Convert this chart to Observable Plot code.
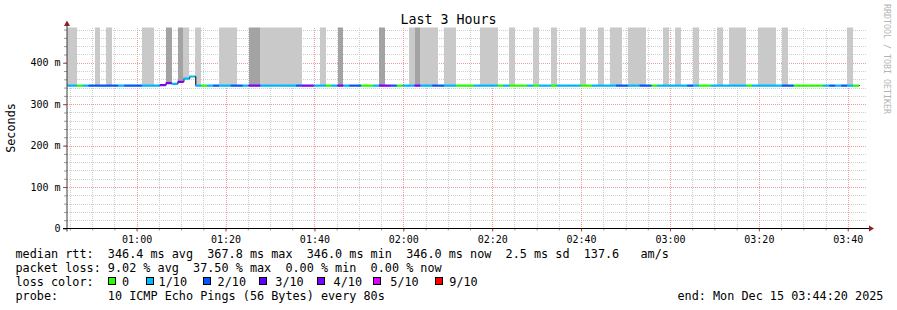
<!DOCTYPE html>
<html><head><meta charset="utf-8">
<script src="https://cdn.jsdelivr.net/npm/d3@7"></script>
<script src="https://cdn.jsdelivr.net/npm/@observablehq/plot@0.6"></script>
<style>
html,body{margin:0;padding:0;background:#fff;}
#wrap{position:relative;width:897px;height:310px;overflow:hidden;background:#fff;font-family:"DejaVu Sans Mono",monospace;color:#000;}
#wrap svg{position:absolute;left:0;top:0;}
.t{position:absolute;white-space:pre;font-size:11.8px;line-height:14px;}
.box{position:absolute;width:8px;height:8px;box-sizing:border-box;border:1px solid #000;}
</style></head><body>
<div id="wrap"></div>
<script>
// ---------------- data ----------------
const titleText = "Last 3 Hours";
const yAxisLabel = "Seconds";
const windowStart = "2025-12-15T00:44:20Z";
const windowEnd = "2025-12-15T03:44:20Z";
const stepStart = "2025-12-15T00:43:52Z";   // first 80 s step (partly hidden left of the axis)
const stepSeconds = 80;

// packet loss per step, in tenths (10 pings)
const lossTenths = [
  1,1,0,1,2,2,2,2,2,1,
  2,2,2,1,1,1,4,4,1,4,
  1,1,1,0,1,2,1,1,2,2,
  1,4,4,1,1,1,1,1,1,2,
  4,4,1,1,0,1,4,1,2,2,
  0,0,1,4,4,2,0,1,1,4,
  1,1,2,2,1,1,0,0,0,1,
  1,1,1,0,1,0,0,0,1,0,
  1,1,0,1,1,1,1,0,0,1,
  1,1,1,2,2,1,1,2,2,0,
  1,1,1,1,1,2,1,0,0,1,
  1,1,1,1,1,0,1,1,1,1,
  1,2,2,0,0,0,0,0,1,2,
  1,2,1,0
];
// median rtt per step (ms)
const medianMs = [
  346,346,346,346,346,346,346,346,346,346,
  346,346,346,346,346,346,347,352,350,355,
  363,368,346,346,346,346,346,346,346,346,
  346,346,346,346,346,346,346,346,346,346,
  346,346,346,346,346,346,346,346,346,346,
  346,346,346,346,346,346,346,346,346,346,
  346,346,346,346,346,346,346,346,346,346,
  346,346,346,346,346,346,346,346,346,346,
  346,346,346,346,346,346,346,346,346,346,
  346,346,346,346,346,346,346,346,346,346,
  346,346,346,346,346,346,346,346,346,346,
  346,346,346,346,346,346,346,346,346,346,
  346,346,346,346,346,346,346,346,346,346,
  346,346,346,346
];
// smoke per step: 0 none, 1 light, 2 dense (reaches past the top of the graph)
const smokeLevel = [
  1,1,0,0,0,1,0,1,0,0,
  0,0,0,1,1,0,0,2,0,2,
  1,0,1,0,0,0,1,1,1,0,
  0,2,2,1,1,1,1,1,1,1,
  0,0,0,1,0,0,2,0,0,0,
  0,0,0,2,0,0,0,0,1,2,
  1,1,1,0,1,1,0,0,0,0,
  1,1,1,0,0,1,0,0,0,1,
  0,0,1,0,0,0,0,1,0,0,
  1,0,1,1,0,1,1,1,0,0,
  0,1,0,1,0,0,1,0,0,0,
  1,0,1,1,1,0,0,1,1,1,
  0,1,0,0,0,0,0,0,0,0,
  0,0,1,0
];
const smokeTopMs = 2000;
const yMaxMs = 485;

const lossLevels = [0, 1, 2, 3, 4, 5, 9];
const lossLabels = ["0", "1/10", "2/10", "3/10", "4/10", "5/10", "9/10"];
const lossColors = ["#26ff00", "#00b8ff", "#0059ff", "#5e00ff", "#7e00ff", "#dd00ff", "#ff0000"];

const xTickLabels = ["01:00","01:20","01:40","02:00","02:20","02:40","03:00","03:20","03:40"];
const yTickValues = [0, 100, 200, 300, 400];

const statLines = [
  "median rtt:  346.4 ms avg  367.8 ms max  346.0 ms min  346.0 ms now  2.5 ms sd  137.6   am/s",
  "packet loss: 9.02 % avg  37.50 % max  0.00 % min  0.00 % now",
  "loss color:",
  "probe:       10 ICMP Echo Pings (56 Bytes) every 80s"
];
const endText = "end: Mon Dec 15 03:44:20 2025";
const watermark = "RRDTOOL / TOBI OETIKER";

// ---------------- build ----------------
const t0 = new Date(stepStart).getTime();
const steps = lossTenths.map((loss, i) => ({
  t0: new Date(t0 + i * stepSeconds * 1000),
  t1: new Date(t0 + (i + 1) * stepSeconds * 1000),
  loss, median: medianMs[i], smoke: smokeLevel[i]
}));
// merge neighbouring smoke steps of the same density into one block
const smokeRuns = [];
steps.forEach(d => {
  if (!d.smoke) return;
  const last = smokeRuns[smokeRuns.length - 1];
  if (last && last.smoke === d.smoke && +last.t1 === +d.t0) { last.t1 = d.t1; last.low = Math.min(last.low, d.median); }
  else smokeRuns.push({t0: d.t0, t1: d.t1, smoke: d.smoke, low: d.median});
});
const colorOf = l => lossColors[lossLevels.indexOf(l)];
const smokeColors = {1: "#c9c9c9", 2: "#a3a3a3"};
const medianLine = steps.map(d => ({t: d.t0, v: d.median}));
medianLine.push({t: steps[steps.length - 1].t1, v: steps[steps.length - 1].median});

const xStart = new Date(windowStart), xEnd = new Date(windowEnd);
const day = windowStart.slice(0, 10);
const xMajor = xTickLabels.map(s => new Date(`${day}T${s}:00Z`));
const xMinor = d3.utcMinute.every(5).range(xStart, xEnd);
const xMinorOnly = xMinor.filter(d => d.getUTCMinutes() % 20 !== 0);
const yMinor = d3.range(20, yMaxMs, 20);
const yMinorOnly = yMinor.filter(v => v % 100 !== 0);
const yMajorGrid = yTickValues.filter(v => v > 0);

const arrowColor = "#8e2222";
function axisLines(index, scales, values, dims) {
  const ml = dims.marginLeft, mt = dims.marginTop;
  const yb = dims.height - dims.marginBottom, xr = dims.width - dims.marginRight;
  const g = d3.create("svg:g");
  g.append("line").attr("x1", ml).attr("x2", ml).attr("y1", yb + 3).attr("y2", mt - 2)
    .attr("stroke", "#3a3a3a").attr("stroke-width", 1);
  g.append("line").attr("x1", ml - 4).attr("x2", xr + 3).attr("y1", yb).attr("y2", yb)
    .attr("stroke", "#000").attr("stroke-width", 1);
  g.append("path").attr("d", `M${ml - 3},${mt - 1.5}L${ml},${mt - 7}L${ml + 3},${mt - 1.5}Z`).attr("fill", arrowColor);
  g.append("path").attr("d", `M${xr + 2},${yb - 3}L${xr + 7},${yb}L${xr + 2},${yb + 3}Z`).attr("fill", arrowColor);
  return g.node();
}

const minorGrid = "#cdcdcd", majorGrid = "#f19c9c";
const chart = Plot.plot({
  width: 897, height: 245,
  marginLeft: 67, marginRight: 30, marginTop: 27.5, marginBottom: 16.5,
  style: {fontFamily: "'DejaVu Sans Mono', monospace", fontSize: "10px", color: "#000", background: "transparent", overflow: "visible"},
  x: {type: "utc", domain: [xStart, xEnd]},
  y: {domain: [0, yMaxMs]},
  color: {type: "identity"},
  marks: [
    Plot.ruleX(xMinorOnly, {stroke: minorGrid, strokeDasharray: "1,1", shapeRendering: "crispEdges"}),
    Plot.ruleY(yMinorOnly, {stroke: minorGrid, strokeDasharray: "1,1", shapeRendering: "crispEdges"}),
    Plot.ruleX(xMajor, {stroke: majorGrid, strokeDasharray: "1,1", shapeRendering: "crispEdges"}),
    Plot.ruleY(yMajorGrid, {stroke: majorGrid, strokeDasharray: "1,1", shapeRendering: "crispEdges"}),
    Plot.rect(smokeRuns, {x1: "t0", x2: "t1", y1: "low", y2: () => smokeTopMs,
      fill: d => smokeColors[d.smoke], clip: true, shapeRendering: "crispEdges"}),
    Plot.line(medianLine, {x: "t", y: "v", curve: "step-after", stroke: "#000", strokeWidth: 1, clip: true}),
    Plot.ruleY(steps, {x1: "t0", x2: "t1", y: "median", stroke: d => colorOf(d.loss), strokeWidth: 2.2, clip: true}),
    Plot.axisY(yMinor, {tickSize: 3, tickFormat: () => "", stroke: "#9a9a9a", label: null}),
    Plot.axisY(yTickValues, {tickSize: 4, tickPadding: 3, tickFormat: v => v === 0 ? "0" : v + " m", stroke: "#d04040", fill: "#000", label: null}),
    Plot.axisX(xMinor, {tickSize: 2, tickFormat: () => "", stroke: "#9a9a9a", label: null}),
    Plot.axisX(xMajor, {tickSize: 3, tickPadding: 4, tickFormat: d3.utcFormat("%H:%M"), stroke: "#d04040", fill: "#000", label: null}),
    axisLines
  ]
});

const wrap = document.getElementById("wrap");
wrap.appendChild(chart);

function addText(txt, left, top, extra = {}) {
  const d = document.createElement("div");
  d.className = "t";
  d.textContent = txt;
  d.style.left = left + "px";
  d.style.top = top + "px";
  Object.assign(d.style, extra);
  wrap.appendChild(d);
  return d;
}
// title
addText(titleText, 0, 11.6, {width: "897px", textAlign: "center", fontSize: "13.3px", lineHeight: "16px"});
// y axis label
addText(yAxisLabel, 10.8, 127.5, {transform: "translate(-50%,-50%) rotate(-90deg)"});
// watermark
addText(watermark, 882, 4, {writingMode: "vertical-rl", fontSize: "8.3px", lineHeight: "9px", color: "#b4b4b4"});
// statistics lines
const lineTops = [247.4, 261.4, 275.4, 289.4];
statLines.forEach((s, i) => addText(s, 15.5, lineTops[i]));
addText(endText, 677.5, lineTops[3]);
// loss colour legend
const legendBoxX = [108, 146, 203, 258.5, 317, 373, 435];
const legendTextX = [122, 158.6, 217.6, 275.3, 333.6, 390.3, 449.3];
lossLabels.forEach((lab, i) => {
  const b = document.createElement("div");
  b.className = "box";
  b.style.left = legendBoxX[i] + "px";
  b.style.top = "277px";
  b.style.background = lossColors[i];
  wrap.appendChild(b);
  addText(lab, legendTextX[i], lineTops[2]);
});
</script>
</body></html>
